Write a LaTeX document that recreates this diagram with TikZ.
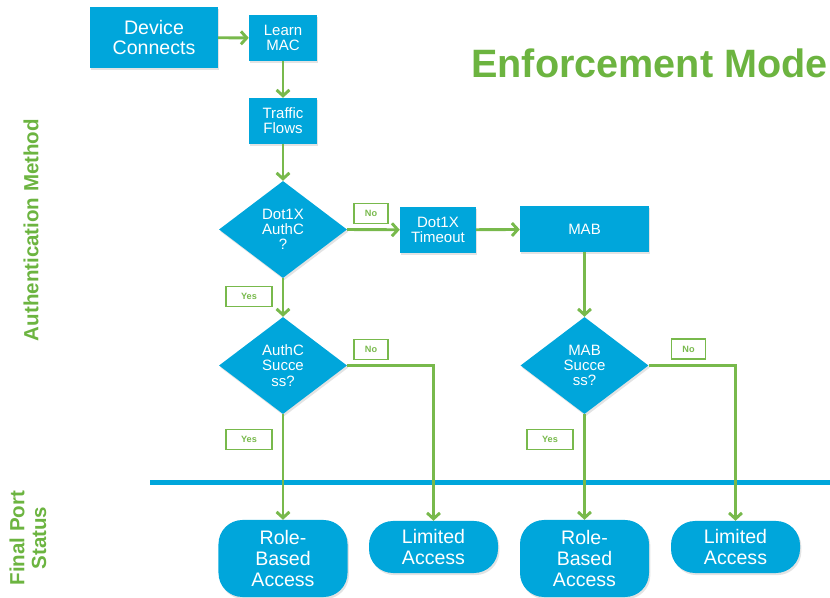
\documentclass[tikz,border=0pt]{standalone}
\usepackage{fontspec}
\setmainfont{Liberation Sans}
\usetikzlibrary{arrows.meta,calc,positioning,shapes.geometric,shadows}
\definecolor{ciscoblue}{RGB}{0,166,219}
\definecolor{leafgreen}{RGB}{120,185,76}
\definecolor{titlegreen}{RGB}{108,180,64}
\tikzset{
    myshadow/.style={drop shadow={shadow xshift=1.2pt,shadow yshift=-1.8pt,opacity=0.22}},
    mybox/.style={rectangle,fill=ciscoblue,text=white,align=center,inner sep=0pt,myshadow},
    mysmall/.style={mybox,minimum width=2.04cm,minimum height=1.38cm,font=\fontsize{12.8}{13}\selectfont},
    mydiamond/.style={diamond,aspect=1.3,fill=ciscoblue,text=white,align=center,inner sep=0pt,
        minimum width=3.84cm,minimum height=2.91cm,font=\fontsize{12.8}{13}\selectfont,myshadow},
    myend/.style={mybox,rounded corners=0.72cm,minimum width=3.87cm,font=\fontsize{16.7}{17.6}\selectfont},
    mytag/.style={draw=leafgreen,line width=1.1pt,text=leafgreen,inner sep=0pt,
        minimum width=1.02cm,minimum height=0.6cm,font=\bfseries\fontsize{7.8}{8}\selectfont},
    myside/.style={text=titlegreen,rotate=90,align=center,font=\bfseries\fontsize{17.5}{18.5}\selectfont},
    myedge/.style={line width=2.5pt,draw=leafgreen,-{Straight Barb[length=5pt,width=11pt]}}
}

\begin{document}
\begin{tikzpicture}[x=0.03cm,y=-0.03cm]
  \useasboundingbox (0,0) rectangle (830,598);

  % titles
  \node[text=titlegreen,anchor=base east,inner sep=0pt,
    font=\bfseries\fontsize{33.8}{36}\selectfont] (title) at (828,78) {Enforcement Mode};
  \node[myside] (method) at (31,230) {Authentication Method};
  \node[myside] (status) at (28,538) {Final Port\\Status};

  % separator
  \coordinate (sepL) at (150,482.5);
  \coordinate (sepR) at (830,482.5);
  \draw[ciscoblue,line width=4.3pt] (sepL) -- (sepR);

  % top chain
  \node[mybox,minimum width=3.84cm,minimum height=1.83cm,
    font=\fontsize{16.7}{17.9}\selectfont] (dev) at (154,37.5) {Device\\Connects};
  \node[mysmall] (learn) at (283,38) {Learn\\MAC};
  \node[mysmall] (traffic) at (283,121) {Traffic\\Flows};

  % decisions
  \node[mydiamond] (dot1x) at (283,229.5) {Dot1X\\AuthC\\?};
  \node[mysmall,minimum width=2.28cm] (timeout) at (438,230) {Dot1X\\Timeout};
  \node[mysmall,minimum width=3.87cm] (mab) at (584.5,229) {MAB};
  \node[mydiamond] (authok) at (283,365.5) {AuthC\\Succe\\ss?};
  \node[mydiamond] (mabok) at (584.5,365.5) {MAB\\Succe\\ss?};

  % port status
  \node[myend,minimum height=2.31cm] (role1) at (283,558.5) {Role-\\Based\\Access};
  \node[myend,minimum height=1.56cm] (limit1) at (433.5,547) {Limited\\Access};
  \node[myend,minimum height=2.31cm] (role2) at (584.5,558.5) {Role-\\Based\\Access};
  \node[myend,minimum height=1.56cm] (limit2) at (735.5,547) {Limited\\Access};

  % yes / no tags
  \node[mytag] (no1) at (371,213.5) {No};
  \node[mytag] (no2) at (371,349.5) {No};
  \node[mytag] (no3) at (688.5,349) {No};
  \node[mytag,minimum width=1.38cm] (yes1) at (249,296.5) {Yes};
  \node[mytag,minimum width=1.38cm] (yes2) at (249,439.5) {Yes};
  \node[mytag,minimum width=1.38cm] (yes3) at (550,439.5) {Yes};

  % connectors
  \draw[myedge] (dev) -- (learn);
  \draw[myedge] (learn) -- (traffic);
  \draw[myedge] (traffic) -- (dot1x.north);
  \draw[myedge] (dot1x.east) -- (timeout);
  \draw[myedge] (timeout) -- (mab);
  \draw[myedge] (dot1x.south) -- (authok.north);
  \draw[myedge] (mab) -- (mabok.north);
  \draw[myedge] (authok.south) -- (role1.north);
  \draw[myedge] (authok.east) -| (limit1.north);
  \draw[myedge] (mabok.south) -- (role2.north);
  \draw[myedge] (mabok.east) -| (limit2.north);
\end{tikzpicture}
\end{document}
